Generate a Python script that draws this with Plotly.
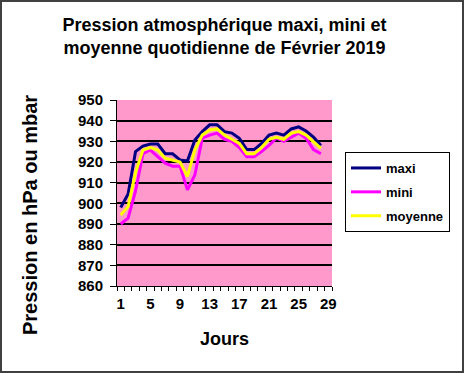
import plotly.graph_objects as go

jours = list(range(1, 29))
maxi = [898, 904.5, 925, 927.7, 928.7, 928.7, 924, 924, 921, 920.5, 930.6, 934.7, 938, 938,
        934.7, 934, 931.5, 926, 926, 929, 933, 934, 933, 936, 937, 935, 932, 928]
mini = [890, 892.8, 906, 924, 925.8, 922.6, 919.4, 918, 918, 906.5, 913.7, 931.5, 933, 934,
        931, 930, 927, 922.6, 922.6, 925, 928, 931.5, 930, 932, 934, 931.5, 926, 924]
moyenne = [894.4, 898.4, 915, 925.8, 927, 925.8, 921.8, 921, 920, 913, 925.8, 933, 935.5, 936,
           933, 931, 929, 924, 924, 927, 931, 932, 931, 934, 934.7, 933, 930, 926.6]
x_ticks = [1, 5, 9, 13, 17, 21, 25, 29]

fig = go.Figure()
for name, vals, col in [("maxi", maxi, "#000080"), ("mini", mini, "#FF00FF"),
                        ("moyenne", moyenne, "#FFFF00")]:
    fig.add_trace(go.Scatter(x=jours, y=vals, name=f"<b>{name}</b>", mode="lines",
                             legendgroup=name, line=dict(color=col, width=3)))

W, H = 464, 373
L, R, T, B = 117, 132, 100, 87
pw, ph = W - L - R, H - T - B

fig.update_layout(
    width=W, height=H,
    margin=dict(l=L, r=R, t=T, b=B),
    paper_bgcolor="white",
    plot_bgcolor="#FF99CC",
    font=dict(family="Arial, Liberation Sans, sans-serif", color="black", size=13),
    title=dict(text="<b>Pression atmosphérique maxi, mini et<br>moyenne quotidienne de Février 2019</b>",
               x=0.5, xref="paper", xanchor="center", yref="container",
               y=1 - 31 / H, yanchor="middle",
               font=dict(size=18)),
    showlegend=True,
    legend=dict(x=(345 - L) / pw, y=(286 - 152) / ph, xanchor="left", yanchor="top",
                bgcolor="white", bordercolor="black", borderwidth=1,
                font=dict(size=13, family="Arial, Liberation Sans, sans-serif"),
                itemwidth=30, tracegroupgap=4),
    xaxis=dict(range=[0.5, 29.5], tickmode="array", tickvals=x_ticks,
               ticktext=[f"<b>{v}</b>" for v in x_ticks],
               showgrid=False, zeroline=False, showline=True, linecolor="black", linewidth=1,
               ticks="", tickfont=dict(size=15), ticklabelstandoff=4,
               minor=dict(ticks="outside", tick0=0.5, dtick=1, ticklen=4, tickcolor="black",
                          showgrid=False),
               title=dict(text="<b>Jours</b>", font=dict(size=18), standoff=21)),
    yaxis=dict(range=[860, 950], dtick=10, tick0=860,
               tickformat="d",
               showgrid=True, gridcolor="black", gridwidth=2, zeroline=False,
               showline=True, linecolor="black", linewidth=1,
               ticks="outside", ticklen=6, tickcolor="black",
               tickfont=dict(size=15), ticklabelstandoff=4),
)
fig.update_yaxes(tickprefix="<b>", ticksuffix="</b>")

# y-axis title as an annotation (placed like the original, slightly below centre)
fig.add_annotation(text="<b>Pression en hPa ou mbar</b>", textangle=-90,
                   xref="paper", yref="paper", x=(30 - L) / pw, y=(H - B - 215) / ph,
                   xanchor="center", yanchor="middle", showarrow=False,
                   font=dict(size=20))

# outer frame around the chart
fig.add_shape(type="rect", xref="paper", yref="paper",
              x0=(-L + 1) / pw, x1=(W - L - 1) / pw,
              y0=(-B + 1) / ph, y1=(H - B - 1) / ph,
              line=dict(color="#404040", width=2), layer="below")

fig.write_html("out.html", config={"displayModeBar": False},
               post_script="document.body.style.margin='0px';")
